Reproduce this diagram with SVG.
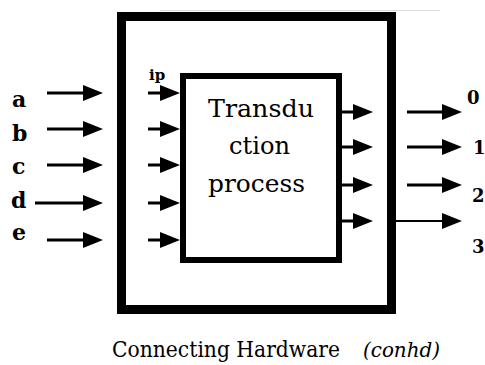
<svg xmlns="http://www.w3.org/2000/svg" width="485" height="365" viewBox="0 0 485 365">
  <defs>
    <marker id="ah" markerWidth="20" markerHeight="18" refX="10" refY="9" orient="auto" markerUnits="userSpaceOnUse">
      <path d="M0,1 L20,9 L0,17 z" fill="#000"/>
    </marker>
    <style>
      .box { fill: none; stroke: #000; }
      .conn line { stroke: #000; stroke-width: 3; marker-end: url(#ah); }
      .lbl { font-family: 'DejaVu Serif', 'Liberation Serif', serif; font-weight: bold; fill: #000; }
      .body { font-family: 'DejaVu Serif', 'Liberation Serif', serif; fill: #000; }
    </style>
  </defs>
  <rect width="485" height="365" fill="#fff"/>
  <line x1="160" y1="10.5" x2="440" y2="10.5" stroke="#ddd" stroke-width="1"/>

  <g id="conhd">
    <rect class="box" x="121.5" y="16.5" width="270" height="293" stroke-width="9"/>
    <text class="body" x="112" y="357" font-size="23" textLength="228" lengthAdjust="spacingAndGlyphs" fill="#222">Connecting Hardware</text>
    <text class="body" x="363" y="357" font-size="21" font-style="italic" textLength="77" lengthAdjust="spacingAndGlyphs">(conhd)</text>
  </g>

  <g id="transduction">
    <rect class="box" x="183" y="76" width="156" height="184" stroke-width="6"/>
    <text class="body" x="261" y="117" font-size="25" text-anchor="middle" textLength="106" lengthAdjust="spacingAndGlyphs">Transdu</text>
    <text class="body" x="259.5" y="154" font-size="25" text-anchor="middle" textLength="61" lengthAdjust="spacingAndGlyphs">ction</text>
    <text class="body" x="256.5" y="192" font-size="25" text-anchor="middle" textLength="97" lengthAdjust="spacingAndGlyphs">process</text>
  </g>

  <g id="ip-label">
    <text class="lbl" x="149" y="80" font-size="15">ip</text>
  </g>

  <g id="inputs">
    <text class="lbl" x="12" y="107" font-size="22">a</text>
    <text class="lbl" x="12" y="141" font-size="22">b</text>
    <text class="lbl" x="12" y="174" font-size="22">c</text>
    <text class="lbl" x="11" y="208" font-size="22">d</text>
    <text class="lbl" x="12" y="240" font-size="22">e</text>
  </g>

  <g id="outputs">
    <text class="lbl" x="467" y="104" font-size="18">0</text>
    <text class="lbl" x="473" y="154" font-size="18">1</text>
    <text class="lbl" x="472" y="202" font-size="18">2</text>
    <text class="lbl" x="472" y="253" font-size="18">3</text>
  </g>

  <g id="connectors" class="conn">
    <line x1="47" y1="93" x2="93" y2="93"/>
    <line x1="47" y1="129" x2="93" y2="129"/>
    <line x1="47" y1="165" x2="93" y2="165"/>
    <line x1="35" y1="203" x2="93" y2="203"/>
    <line x1="47" y1="240" x2="93" y2="240"/>

    <line x1="148" y1="93" x2="170" y2="93"/>
    <line x1="148" y1="129" x2="170" y2="129"/>
    <line x1="148" y1="165" x2="170" y2="165"/>
    <line x1="148" y1="203" x2="170" y2="203"/>
    <line x1="148" y1="240" x2="170" y2="240"/>

    <line x1="342" y1="112" x2="363" y2="112"/>
    <line x1="342" y1="147" x2="363" y2="147"/>
    <line x1="342" y1="185" x2="363" y2="185"/>
    <line x1="342" y1="221" x2="363" y2="221"/>

    <line x1="407" y1="112" x2="452" y2="112"/>
    <line x1="407" y1="147" x2="452" y2="147"/>
    <line x1="407" y1="185" x2="452" y2="185"/>
    <line x1="396" y1="221" x2="452" y2="221" style="stroke-width:2"/>
  </g>
</svg>
